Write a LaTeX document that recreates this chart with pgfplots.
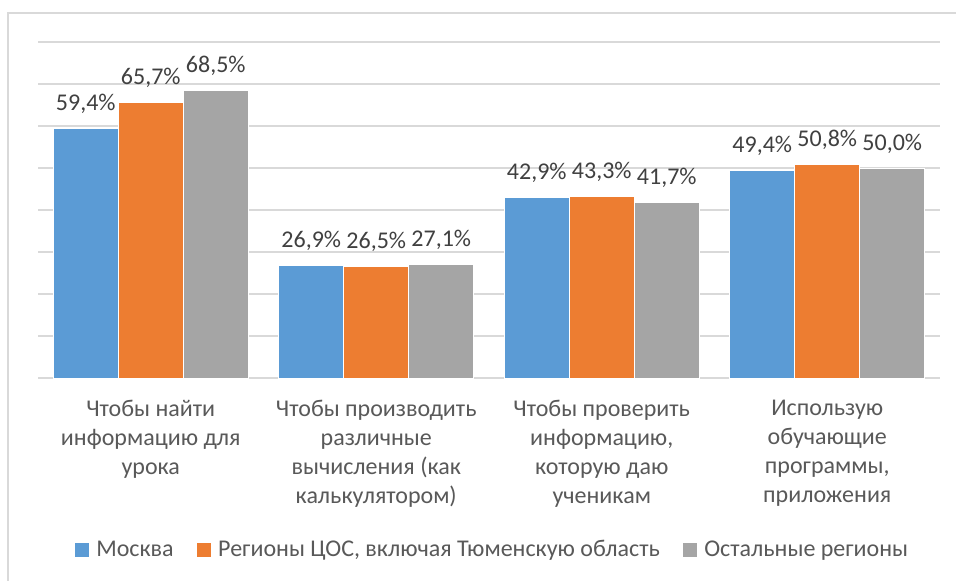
\documentclass[border=0pt]{standalone}
\usepackage{fontspec}
\setmainfont{Carlito}
\usepackage{pgfplots}
\pgfplotsset{compat=1.18}
\definecolor{cblue}{HTML}{5B9BD5}
\definecolor{corange}{HTML}{ED7D31}
\definecolor{cgray}{HTML}{A5A5A5}
\definecolor{gridc}{HTML}{D9D9D9}
\definecolor{lab}{HTML}{404040}
\definecolor{txt}{HTML}{595959}
\begin{document}
\begin{tikzpicture}
\useasboundingbox[fill=white] (0,0) rectangle (478pt,-290pt);
\draw[gridc, line width=0.6pt] (4pt,-291pt) -- (4pt,-6.5pt) -- (479pt,-6.5pt);
\begin{axis}[
  at={(19pt,-189pt)}, anchor=south west,
  scale only axis, width=451pt, height=168pt,
  /pgf/number format/assume math mode=true,
  ybar=0pt, bar width=32.5pt,
  ymin=0, ymax=80, ytick={0,10,...,80}, yticklabels={},
  xmin=-0.5, xmax=3.5, xtick={0,1,2,3},
  xticklabels={{Чтобы найти\\информацию для\\урока},
               {Чтобы производить\\различные\\вычисления (как\\калькулятором)},
               {Чтобы проверить\\информацию,\\которую даю\\ученикам},
               {Использую\\обучающие\\программы,\\приложения}},
  xticklabel style={align=center, font=\fontsize{12}{14.5}\selectfont, text=txt, yshift=-7.5pt},
  major tick length=0pt,
  axis line style={draw=none},
  ymajorgrids, grid style={gridc, line width=0.7pt},
  nodes near coords={\pgfmathprintnumber[fixed,fixed zerofill,precision=1,use comma]{\pgfplotspointmeta}\%},
  every node near coord/.append style={anchor=base, yshift=9pt, inner sep=0pt, font=\fontsize{12}{14.5}\selectfont, text=lab},
  legend columns=3,
  legend style={at={(0.5044,-0.512)}, anchor=center, draw=none, fill=none,
    font=\fontsize{12}{14.5}\selectfont, text=txt,
    /tikz/every even column/.append style={column sep=10pt},
    nodes={inner sep=1.5pt}},
  legend image code/.code={\fill[#1, draw=none] (0pt,-3.5pt) rectangle (7pt,3.5pt); \path (9pt,0pt);},
]
\addplot[fill=cblue, draw=white, line width=0.5pt] coordinates {(0,59.4) (1,26.9) (2,42.9) (3,49.4)};
\addplot[fill=corange, draw=white, line width=0.5pt] coordinates {(0,65.7) (1,26.5) (2,43.3) (3,50.8)};
\addplot[fill=cgray, draw=white, line width=0.5pt] coordinates {(0,68.5) (1,27.1) (2,41.7) (3,50.0)};
\legend{Москва, {Регионы ЦОС, включая Тюменскую область}, Остальные регионы}
\end{axis}
\end{tikzpicture}
\end{document}
